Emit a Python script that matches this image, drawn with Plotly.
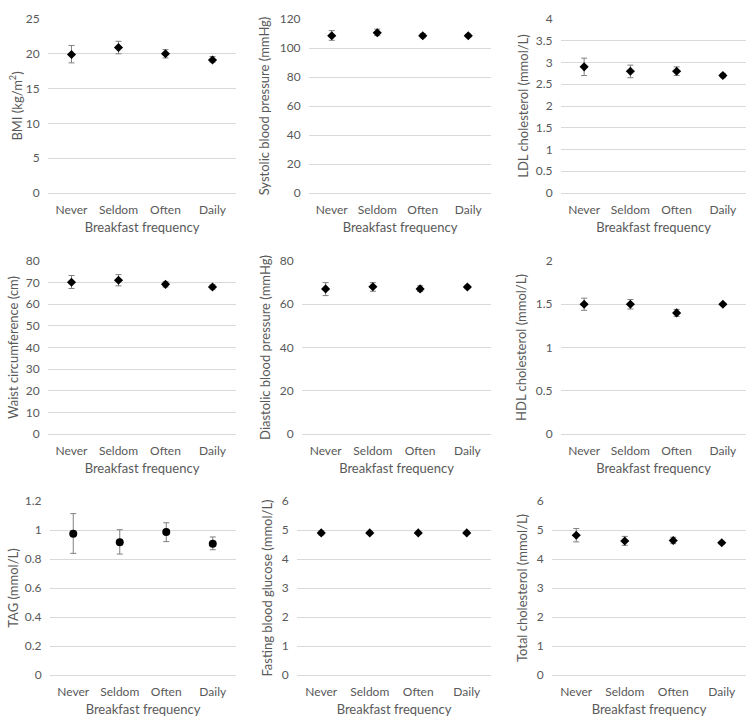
import plotly.graph_objects as go

categories = ["Never", "Seldom", "Often", "Daily"]

bmi = [19.9, 20.9, 20.0, 19.1]
bmi_hi = [21.2, 21.8, 20.6, 19.6]
bmi_lo = [18.7, 20.0, 19.4, 18.8]

sbp = [108.5, 110.5, 108.5, 108.5]
sbp_hi = [112.0, 113.0, 110.0, 109.5]
sbp_lo = [105.3, 108.5, 107.0, 107.5]

ldl = [2.90, 2.80, 2.80, 2.70]
ldl_hi = [3.10, 2.94, 2.90, 2.75]
ldl_lo = [2.70, 2.65, 2.70, 2.65]

waist = [70.2, 71.1, 69.2, 68.0]
waist_hi = [73.3, 73.7, 70.4, 69.0]
waist_lo = [67.3, 68.5, 68.0, 67.0]

dbp = [67.1, 68.1, 67.1, 68.0]
dbp_hi = [70.0, 70.0, 68.5, 68.8]
dbp_lo = [64.0, 66.0, 65.9, 67.2]

hdl = [1.50, 1.50, 1.40, 1.50]
hdl_hi = [1.57, 1.555, 1.44, 1.515]
hdl_lo = [1.43, 1.445, 1.36, 1.485]

tag = [0.975, 0.915, 0.986, 0.906]
tag_hi = [1.113, 1.002, 1.05, 0.952]
tag_lo = [0.839, 0.834, 0.92, 0.864]

fbg = [4.9, 4.9, 4.9, 4.9]
fbg_hi = [4.97, 4.95, 4.94, 4.95]
fbg_lo = [4.83, 4.85, 4.86, 4.85]

tc = [4.82, 4.62, 4.64, 4.56]
tc_hi = [5.05, 4.78, 4.75, 4.61]
tc_lo = [4.59, 4.47, 4.53, 4.51]

y_titles = ["BMI (kg/m<sup>2</sup>)", "Systolic blood pressure (mmHg)", "LDL cholesterol (mmol/L)",
            "Waist circumference (cm)", "Diastolic blood pressure (mmHg)", "HDL cholesterol (mmol/L)",
            "TAG (mmol/L)", "Fasting blood glucose (mmol/L)", "Total cholesterol (mmol/L)"]
x_title = "Breakfast frequency"

panels = [
    (bmi, bmi_hi, bmi_lo, 25, 5, "diamond"),
    (sbp, sbp_hi, sbp_lo, 120, 20, "diamond"),
    (ldl, ldl_hi, ldl_lo, 4, 0.5, "diamond"),
    (waist, waist_hi, waist_lo, 80, 10, "diamond"),
    (dbp, dbp_hi, dbp_lo, 80, 20, "diamond"),
    (hdl, hdl_hi, hdl_lo, 2, 0.5, "diamond"),
    (tag, tag_hi, tag_lo, 1.2, 0.2, "circle"),
    (fbg, fbg_hi, fbg_lo, 6, 1, "diamond"),
    (tc, tc_hi, tc_lo, 6, 1, "diamond"),
]

W, H = 754, 727
# plot-area pixel boxes (left, right, top, bottom)
boxes = [
    (48, 236, 19, 193), (309, 491, 19, 193), (561, 746, 19, 193),
    (48, 236, 261, 434), (302, 491, 261, 434), (561, 746, 261, 434),
    (50, 236, 501, 675), (297, 491, 501, 675), (552, 746, 501, 675),
]
standoffs = [0, 7, 4, 4, 6, 6, 3, 6, 6]

fig = go.Figure()
font_fam = "Lato, 'Open Sans', sans-serif"
txt = "#595959"

for i, ((m, hi, lo, ymax, dt, sym), (l, r, t, b)) in enumerate(zip(panels, boxes)):
    n = "" if i == 0 else str(i + 1)
    fig.add_trace(go.Scatter(
        x=categories, y=m, mode="markers",
        marker=dict(symbol=sym, size=7 if sym == "diamond" else 8, color="black"),
        error_y=dict(type="data", symmetric=False,
                     array=[h - v for h, v in zip(hi, m)],
                     arrayminus=[v - q for v, q in zip(m, lo)],
                     color="#808080", thickness=1, width=3),
        xaxis="x" + n, yaxis="y" + n, showlegend=False))
    fig.layout["xaxis" + n] = dict(
        domain=[l / W, r / W], anchor="y" + n, type="category", automargin=False,
        range=[-0.5, 3.5], showgrid=False, showline=False, ticks="outside", ticklen=6,
        tickcolor="rgba(0,0,0,0)",
        tickfont=dict(size=12, color=txt, family=font_fam),
        title=dict(text=x_title, font=dict(size=13, color=txt, family=font_fam), standoff=6))
    fig.layout["yaxis" + n] = dict(
        domain=[1 - b / H, 1 - t / H], anchor="x" + n, automargin=False,
        range=[0, ymax], dtick=dt, showgrid=True, gridcolor="#d9d9d9", gridwidth=1,
        zeroline=True, zerolinecolor="#d9d9d9", zerolinewidth=1, showline=False,
        ticks="outside", ticklen=5, tickcolor="rgba(0,0,0,0)",
        tickfont=dict(size=12, color=txt, family=font_fam),
        title=dict(text=y_titles[i], font=dict(size=13, color=txt, family=font_fam),
                   standoff=standoffs[i]))

fig.update_layout(width=W, height=H, margin=dict(l=0, r=0, t=0, b=0),
                  paper_bgcolor="white", plot_bgcolor="white")
fig.write_html("out.html", config={"displayModeBar": False},
               post_script="document.body.style.margin='0';document.body.style.overflow='hidden';")
